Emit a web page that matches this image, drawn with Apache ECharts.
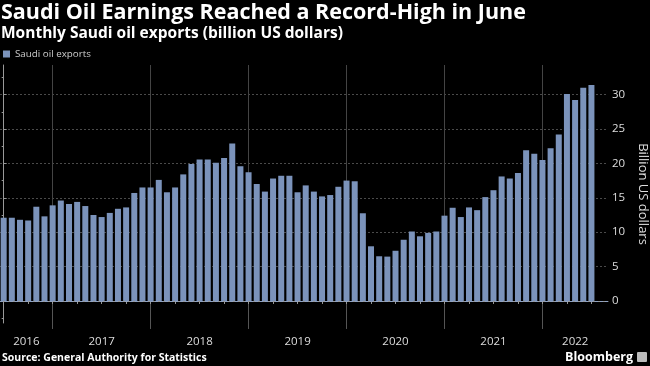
<!DOCTYPE html>
<html><head><meta charset="utf-8">
<script src="https://cdn.jsdelivr.net/npm/echarts@6/dist/echarts.min.js"></script>
<style>html,body{margin:0;padding:0;background:#000;}#c{width:650px;height:366px;}</style>
</head><body><div id="c"></div>
<script>
// Months from Jun 2016 to Jun 2022
const months = [];
for (let y = 2016; y <= 2022; y++) {
  for (let m = 1; m <= 12; m++) {
    const key = y + '-' + String(m).padStart(2, '0');
    if (key >= '2016-06' && key <= '2022-06') months.push(key);
  }
}
// Monthly Saudi oil exports, billion US dollars
const exportsBn = [
  12.1, 12.1, 11.8, 11.7, 13.7, 12.3, 13.9,             // 2016 Jun-Dec
  14.6, 14.1, 14.4, 13.8, 12.5, 12.2, 12.8, 13.4, 13.6, 15.7, 16.5, 16.5, // 2017
  17.6, 15.8, 16.5, 18.4, 19.9, 20.55, 20.55, 20.1, 20.8, 22.9, 19.6, 18.7, // 2018
  17.0, 15.9, 17.8, 18.2, 18.2, 15.8, 16.8, 15.9, 15.2, 15.4, 16.6, 17.5, // 2019
  17.4, 12.75, 7.95, 6.5, 6.45, 7.3, 8.9, 10.1, 9.4, 9.9, 10.1, 12.4,   // 2020
  13.55, 12.2, 13.6, 13.2, 15.1, 16.1, 18.1, 17.8, 18.6, 21.9, 21.4, 20.5, // 2021
  22.2, 24.2, 30.1, 29.2, 31.0, 31.4                     // 2022 Jan-Jun
];
const yearLabels = ['2016', '2017', '2018', '2019', '2020', '2021', '2022'];
const yTicks = [0, 5, 10, 15, 20, 25, 30];
const yMinorTicks = [-2.5, 2.5, 7.5, 12.5, 17.5, 22.5, 27.5, 32.5];

const X_MIN = -0.45, X_MAX = 74.03;
const decIdx = [], quarterIdx = [];
months.forEach((m, i) => {
  const mm = m.slice(5);
  if (mm === '12') decIdx.push(i);
  if (['03', '06', '09', '12'].includes(mm)) quarterIdx.push(i);
});
const bounds = [X_MIN].concat(decIdx, [X_MAX]);
const labelPos = yearLabels.map((_, k) => (bounds[k] + bounds[k + 1]) / 2);

const FONT = 'Open Sans';
const chart = echarts.init(document.getElementById('c'), null, { renderer: 'canvas' });
chart.setOption({
  backgroundColor: '#000',
  animation: false,
  textStyle: { fontFamily: FONT },
  title: [
    { text: 'Saudi Oil Earnings Reached a Record-High in June', left: 1, top: 2, padding: 0,
      textStyle: { color: '#fff', fontSize: 21.5, fontWeight: 'bold', fontFamily: FONT } },
    { text: 'Monthly Saudi oil exports (billion US dollars)', left: 1, top: 26, padding: 0,
      textStyle: { color: '#fff', fontSize: 15.5, fontWeight: 'bold', fontFamily: FONT } },
    { text: 'Source: General Authority for Statistics', left: 2, bottom: 2, padding: 0,
      textStyle: { color: '#fff', fontSize: 10.5, fontWeight: 'bold', fontFamily: FONT } },
    { text: 'Bloomberg', right: 17, bottom: 2, padding: 0,
      textStyle: { color: '#fff', fontSize: 12.5, fontWeight: 'bold', fontFamily: FONT } }
  ],
  graphic: [
    { type: 'rect', right: 3, bottom: 4, shape: { width: 10, height: 10, r: 1 }, style: { fill: '#bbb' } }
  ],
  legend: {
    left: 3, top: 49, padding: 0, itemWidth: 7, itemHeight: 7, itemGap: 4,
    icon: 'rect',
    textStyle: { color: '#ccc', fontSize: 9.8, fontFamily: FONT },
    data: ['Saudi oil exports']
  },
  grid: { left: 0, right: 42, top: 65, bottom: 43, containLabel: false, outerBoundsMode: 'none' },
  xAxis: [
    {
      type: 'value', min: X_MIN, max: X_MAX, position: 'bottom',
      axisLine: { show: true, lineStyle: { color: '#999', width: 1 } },
      axisTick: { show: true, customValues: decIdx, length: 28, lineStyle: { color: '#555' } },
      axisLabel: {
        show: true, customValues: labelPos, color: '#ddd', fontSize: 11.5, margin: 13, fontFamily: FONT,
        formatter: (v) => { const k = labelPos.findIndex(p => Math.abs(p - v) < 1e-6); return k >= 0 ? yearLabels[k] : ''; }
      },
      splitLine: { show: true, lineStyle: { color: '#444', width: 1 } }
    },
    {
      type: 'value', min: X_MIN, max: X_MAX, position: 'bottom',
      axisLine: { show: false },
      axisTick: { show: true, customValues: quarterIdx, length: 3, lineStyle: { color: '#999' } },
      axisLabel: { show: false },
      splitLine: { show: false }
    }
  ],
  yAxis: [
    {
      type: 'value', min: -3.2, max: 34.3, position: 'right',
      name: 'Billion US dollars', nameLocation: 'middle', nameRotate: -90, nameGap: 27,
      nameTextStyle: { color: '#ddd', fontSize: 13, fontFamily: FONT },
      axisLine: { show: true, lineStyle: { color: '#999', width: 1 } },
      axisTick: { show: true, customValues: yTicks, length: 3, lineStyle: { color: '#999' } },
      axisLabel: { show: true, customValues: yTicks, color: '#ddd', fontSize: 11.5, margin: 4, fontFamily: FONT },
      splitLine: { show: true, lineStyle: { color: '#4a4a4a', type: [2, 2], width: 1 } }
    },
    {
      type: 'value', min: -3.2, max: 34.3, position: 'right',
      axisLine: { show: false },
      axisTick: { show: true, customValues: yMinorTicks, inside: true, length: 2, lineStyle: { color: '#999' } },
      axisLabel: { show: false },
      splitLine: { show: false }
    }
  ],
  series: [{
    type: 'bar', name: 'Saudi oil exports', xAxisIndex: 0, yAxisIndex: 0,
    data: exportsBn.map((v, i) => [i, v]),
    barWidth: 6,
    itemStyle: { color: '#7b93bb' },
    markLine: {
      silent: true, symbol: 'none', label: { show: false },
      lineStyle: { color: '#8fa3c4', type: [3, 2], width: 1 },
      data: [{ yAxis: 0 }]
    }
  }]
});
</script></body></html>
